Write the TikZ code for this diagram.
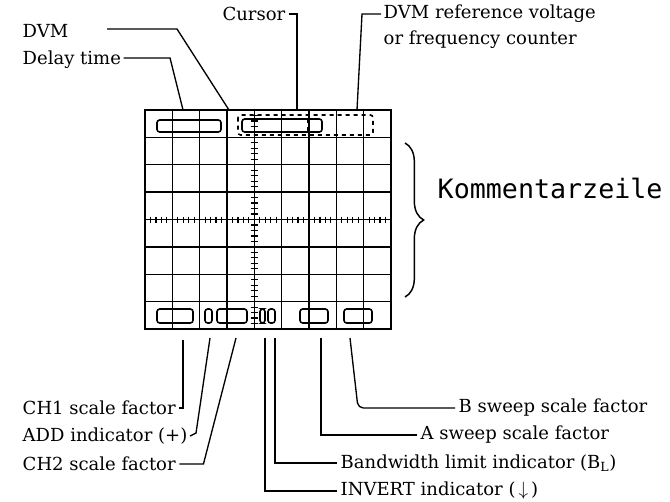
\documentclass[tikz,border=0pt]{standalone}
\usepackage{fontspec}
\setmainfont{DejaVu Serif}
\newfontfamily\monofont{DejaVu Sans Mono}
\usetikzlibrary{decorations.pathreplacing}

\begin{document}
\begin{tikzpicture}[x=0.75pt,y=-0.75pt,line width=1.1pt,
  lbl/.style={inner sep=0pt,anchor=west,font=\fontsize{13.5}{15}\selectfont},
  ind/.style={draw,rounded corners=2pt,line width=1.2pt},
  lead/.style={line width=1pt}]
  \useasboundingbox (0,0) rectangle (670,501);

  % Graticule
  \foreach \i in {0,...,9}
    \draw (145+27.33*\i,110) -- (145+27.33*\i,329);
  \foreach \j in {0,...,8}
    \draw (145,110+27.375*\j) -- (391,110+27.375*\j);
  \draw[line width=1.3pt] (145,110) rectangle (391,329);

  % Centre ticks
  \foreach \k in {1,...,39}
    \draw[line width=0.9pt] (250.5,110+5.475*\k) -- (258.1,110+5.475*\k);
  \foreach \k in {1,...,44}
    \draw[line width=0.9pt] (145+5.466*\k,216.5) -- (145+5.466*\k,222.5);

  % Top readout line
  \draw[ind] (157,120) rectangle (221,132);
  \draw[ind,dashed] (238,115) rectangle (373,135);
  \draw[ind] (242,119) rectangle (322,132);
  \draw[dashed] (308,119) -- (308,132);

  % Bottom readout line
  \draw[ind] (157,309) rectangle (193,323);
  \draw[ind] (205,309) rectangle (212,323);
  \draw[ind] (217,309) rectangle (247,323);
  \draw[ind] (260,309) rectangle (265,323);
  \draw[ind] (268,309) rectangle (275,323);
  \draw[ind] (300,309) rectangle (328,323);
  \draw[ind] (344,309) rectangle (372,323);

  % Pointer ends
  \coordinate (pDelay) at (183,110);
  \coordinate (pDvm) at (229,110);
  \coordinate (pCur) at (297,110);
  \coordinate (pRef) at (357,110);
  \coordinate (pCh1) at (183,340);
  \coordinate (pAdd) at (210,338);
  \coordinate (pCh2) at (236,338);
  \coordinate (pInv) at (265,338);
  \coordinate (pBwl) at (275,338);
  \coordinate (pAsw) at (321,338);
  \coordinate (pBsw) at (350,338);

  % Labels
  \node[lbl] (dvm) at (22,31) {DVM};
  \node[lbl] (delay) at (22,60) {Delay time};
  \node[lbl,anchor=east] (cursor) at (286,14) {Cursor};
  \node[lbl] (dvmref) at (383,14) {DVM reference voltage};
  \node[lbl] (dvmref2) at (383,40) {or frequency counter};
  \node[anchor=west,inner sep=0pt,font=\monofont\fontsize{20}{24}\selectfont] (komm) at (437,188) {Kommentarzeile};
  \node[lbl] (ch1) at (22,408) {CH1 scale factor};
  \node[lbl] (add) at (22,436) {ADD indicator (+)};
  \node[lbl] (ch2) at (22,464) {CH2 scale factor};
  \node[lbl] (bsw) at (458,408) {B sweep scale factor};
  \node[lbl] (asw) at (420,435) {A sweep scale factor};
  \node[lbl] (bwl) at (340,463) {Bandwidth limit indicator (B$_{\mathrm{L}}$)};
  \node[lbl] (inv) at (340,491) {INVERT indicator (\,$\downarrow$\,)};

  % Brace
  \draw[decorate,decoration={brace,amplitude=14pt},line width=1.1pt] (405,143) -- (405,297);

  % Leaders
  \draw[lead] (dvm.east) ++(38,-2) -- (177,29) -- (pDvm);
  \draw[lead] (delay.east) ++(2,-2) -- (170,58) -- (pDelay);
  \draw[lead] (cursor.east) ++(3,0) -| (pCur);
  \draw[lead] (dvmref.west) ++(-2,0) -- ++(-19,0) -- (pRef);
  \draw[lead] (ch1.east) ++(3,0) -| (pCh1);
  \draw[lead] (add.east) ++(2,0) -- ++(6,-3) -- (pAdd);
  \draw[lead] (ch2.east) ++(3,0) -- ++(24,0) -- (pCh2);
  \draw[lead] (inv.west) ++(-3,0) -| (pInv);
  \draw[lead] (bwl.west) ++(-3,0) -| (pBwl);
  \draw[lead] (asw.west) ++(-3,0) -| (pAsw);
  \draw[lead,rounded corners=4pt] (bsw.west) ++(-3,0) -- (358,408) -- (pBsw);
\end{tikzpicture}
\end{document}
